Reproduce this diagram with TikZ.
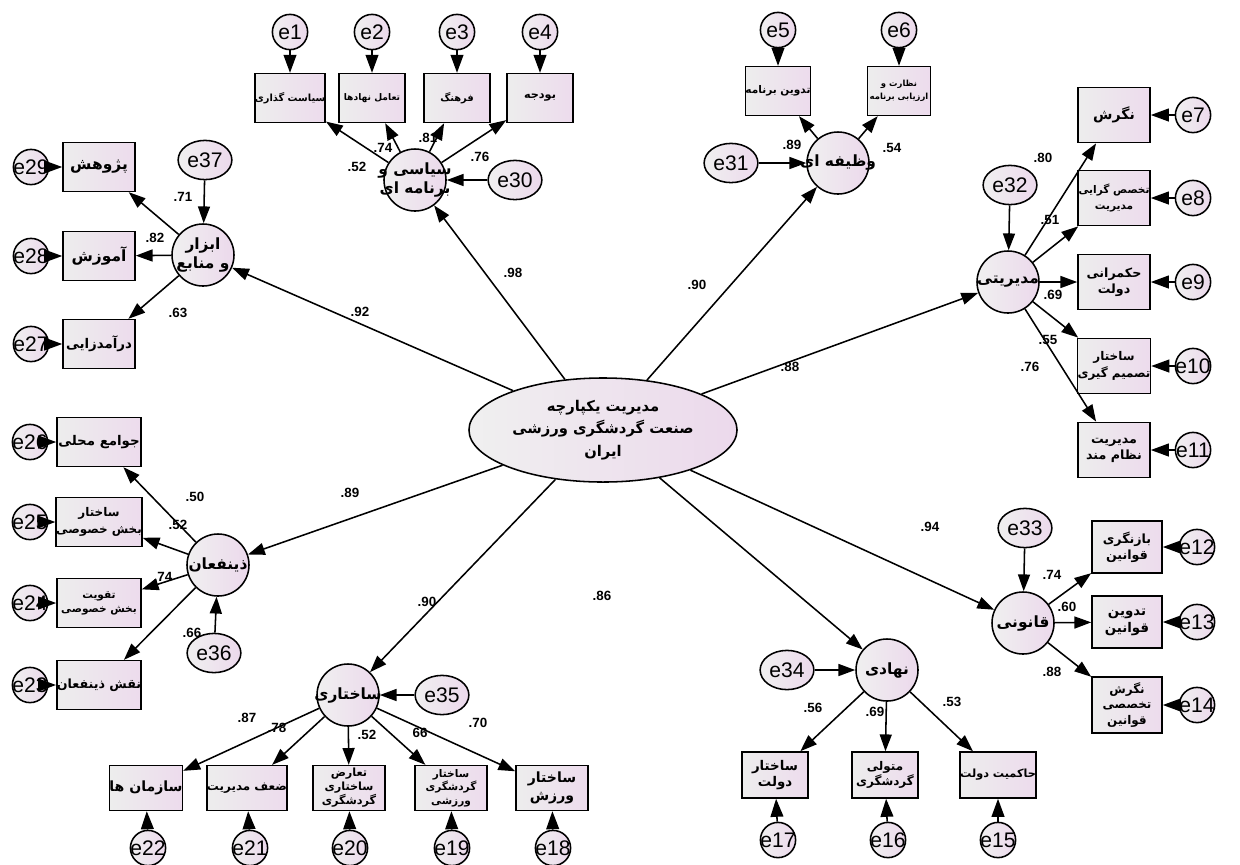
\documentclass[tikz,border=0pt]{standalone}
\usepackage{fontspec}
\setmainfont{Liberation Sans}
\newfontfamily\arabicfont[Script=Arabic]{DejaVu Sans}
\TeXXeTstate=1
\usetikzlibrary{positioning,arrows.meta,shapes.geometric}
\newcommand{\fa}[1]{{\arabicfont\bfseries\beginR #1\endR}}

\tikzset{
  latent/.style={circle,draw,line width=1.1pt,left color=gray!12,right color=violet!15,
    minimum size=1.55cm,inner sep=0pt,label={[lattxt]center:{#1}}},
  lattxt/.style={font=\fontsize{11}{13}\selectfont,align=center},
  obs/.style={rectangle,draw,line width=1.1pt,left color=gray!14,right color=violet!14,
    minimum width=1.65cm,minimum height=1.22cm,inner sep=0pt,align=center,
    font=\fontsize{9}{11.5}\selectfont},
  fs/.style 2 args={font=\fontsize{#1}{#2}\selectfont},
  errl/.style={ellipse,draw,line width=1.1pt,left color=gray!12,right color=violet!15,
    minimum width=1.22cm,minimum height=0.98cm,inner sep=1pt,font=\fontsize{15}{16}\selectfont},
  erri/.style={circle,draw,line width=1.1pt,left color=gray!12,right color=violet!15,
    minimum size=0.88cm,inner sep=0pt,label={[font=\fontsize{15}{16}\selectfont]center:#1}},
  ld/.style={font=\bfseries\fontsize{9.5}{10}\selectfont,inner sep=1pt},
  arr/.style={line width=1.1pt,-{Triangle[length=0.42cm,width=0.3cm]}},
  earr/.style={line width=1.1pt,-{Triangle[length=0.45cm,width=0.32cm]}}
}

\begin{document}
\begin{tikzpicture}[x=0.025cm,y=-0.025cm]
    \useasboundingbox (0,0) rectangle (1240,864);

    % Variable centrale
    \node[ellipse,draw,line width=1.1pt,left color=gray!12,right color=violet!15,
      minimum width=6.7cm,minimum height=2.6cm,align=center,inner sep=1pt,
      font=\fontsize{10.5}{16}\selectfont] (c) at (603,430)
      {\fa{مدیریت یکپارچه}\\\fa{صنعت گردشگری ورزشی}\\\fa{ایران}};

    % Variables latentes
    \node[latent={\fa{سیاسی و}\\\fa{برنامه ای}}] (pol) at (415,180) {};
    \node[latent={\fa{وظیفه ای}}] (func) at (838,163) {};
    \node[latent={\fa{مدیریتی}}] (mgmt) at (1008,282) {};
    \node[latent={\fa{قانونی}}] (law) at (1023,623) {};
    \node[latent={\fa{نهادی}}] (inst) at (887,670) {};
    \node[latent={\fa{ساختاری}}] (str) at (348,695) {};
    \node[latent={\fa{ذینفعان}}] (stake) at (218,565) {};
    \node[latent={\fa{ابزار}\\\fa{و منابع}}] (tools) at (203,255) {};

    % Erreurs des latentes
    \node[errl] (e30) at (515,180) {e30};
    \node[errl] (e31) at (731,163) {e31};
    \node[errl] (e32) at (1010,185) {e32};
    \node[errl] (e33) at (1025,528) {e33};
    \node[errl] (e34) at (787,670) {e34};
    \node[errl] (e35) at (442,695) {e35};
    \node[errl] (e36) at (214,653) {e36};
    \node[errl] (e37) at (205,160) {e37};

    \draw[arr] (e30) -- (pol);
    \draw[arr] (e31) -- (func);
    \draw[arr] (e32) -- (mgmt);
    \draw[arr] (e33) -- (law);
    \draw[arr] (e34) -- (inst);
    \draw[arr] (e35) -- (str);
    \draw[arr] (e36) -- (stake);
    \draw[arr] (e37) -- (tools);

    % Chemins structurels
    \draw[arr] (c) -- (pol);
    \draw[arr] (c) -- (func);
    \draw[arr] (c) -- (mgmt);
    \draw[arr] (c) -- (law);
    \draw[arr] (c) -- (inst);
    \draw[arr] (c) -- (str);
    \draw[arr] (c) -- (stake);
    \draw[arr] (c) -- (tools);
    \node[ld] (s1) at (360,312) {.92};
    \node[ld] (s2) at (513,273) {.98};
    \node[ld] (s3) at (697,285) {.90};
    \node[ld] (s4) at (790,367) {.88};
    \node[ld] (s5) at (930,527) {.94};
    \node[ld] (s6) at (602,596) {.86};
    \node[ld] (s7) at (427,602) {.90};
    \node[ld] (s8) at (350,493) {.89};

    % Bloc politique
    \node[obs,fs={7}{9}] (b1) at (290,98) {\fa{سیاست گذاری}};
    \node[obs,fs={6.5}{8}] (b2) at (372,98) {\fa{تعامل نهادها}};
    \node[obs,fs={7}{9}] (b3) at (457,98) {\fa{فرهنگ}};
    \node[obs,fs={8}{9}] (b4) at (540,98) {\fa{بودجه}};
    \node[erri=e1] (e1) at (290,32) {};
    \node[erri=e2] (e2) at (372,32) {};
    \node[erri=e3] (e3) at (457,32) {};
    \node[erri=e4] (e4) at (540,32) {};
    \foreach \i in {1,...,4} \draw[earr] (e\i) -- (b\i);
    \foreach \i in {1,...,4} \draw[arr] (pol) -- (b\i);
    \node[ld] (p1) at (357,167) {.52};
    \node[ld] (p2) at (383,148) {.74};
    \node[ld] (p3) at (428,138) {.81};
    \node[ld] (p4) at (480,157) {.76};

    % Bloc fonctionnel
    \node[obs,minimum width=1.58cm,fs={7.5}{9}] (b5) at (778,91) {\fa{تدوین برنامه}};
    \node[obs,minimum width=1.58cm,fs={6}{9}] (b6) at (899,91) {\fa{نظارت و}\\\fa{ارزیابی برنامه}};
    \node[erri=e5] (e5) at (778,30) {};
    \node[erri=e6] (e6) at (899,30) {};
    \draw[earr] (e5) -- (b5);
    \draw[earr] (e6) -- (b6);
    \draw[arr] (func) -- (b5);
    \draw[arr] (func) -- (b6);
    \node[ld] (f1) at (792,145) {.89};
    \node[ld] (f2) at (892,148) {.54};

    % Bloc managérial
    \node[obs,minimum width=1.8cm,minimum height=1.38cm,fs={10}{12}] (b7) at (1114,115) {\fa{نگرش}};
    \node[obs,minimum width=1.8cm,minimum height=1.38cm,fs={7.5}{11}] (b8) at (1114,198) {\fa{تخصص گرایی}\\\fa{مدیریت}};
    \node[obs,minimum width=1.8cm,minimum height=1.38cm] (b9) at (1114,282) {\fa{حکمرانی}\\\fa{دولت}};
    \node[obs,minimum width=1.8cm,minimum height=1.38cm,fs={8.5}{12}] (b10) at (1114,366) {\fa{ساختار}\\\fa{تصمیم گیری}};
    \node[obs,minimum width=1.8cm,minimum height=1.38cm] (b11) at (1114,450) {\fa{مدیریت}\\\fa{نظام مند}};
    \node[erri=e7] (e7) at (1193,115) {};
    \node[erri=e8] (e8) at (1193,198) {};
    \node[erri=e9] (e9) at (1193,282) {};
    \node[erri=e10] (e10) at (1193,366) {};
    \node[erri=e11] (e11) at (1193,450) {};
    \foreach \i in {7,...,11} \draw[earr] (e\i) -- (b\i);
    \foreach \i in {7,...,11} \draw[arr] (mgmt) -- (b\i);
    \node[ld] (m1) at (1043,158) {.80};
    \node[ld] (m2) at (1050,220) {.51};
    \node[ld] (m3) at (1053,295) {.69};
    \node[ld] (m4) at (1048,340) {.55};
    \node[ld] (m5) at (1030,367) {.76};

    % Bloc juridique
    \node[obs,minimum width=1.75cm,minimum height=1.3cm] (b12) at (1127,547) {\fa{بازنگری}\\\fa{قوانین}};
    \node[obs,minimum width=1.75cm,minimum height=1.3cm,fs={9.5}{12}] (b13) at (1127,622) {\fa{تدوین}\\\fa{قوانین}};
    \node[obs,minimum width=1.75cm,minimum height=1.4cm,fs={8.5}{11}] (b14) at (1127,705) {\fa{نگرش}\\\fa{تخصصی}\\\fa{قوانین}};
    \node[erri=e12] (e12) at (1197,547) {};
    \node[erri=e13] (e13) at (1197,622) {};
    \node[erri=e14] (e14) at (1197,705) {};
    \foreach \i in {12,13,14} \draw[earr] (e\i) -- (b\i);
    \foreach \i in {12,13,14} \draw[arr] (law) -- (b\i);
    \node[ld] (j1) at (1052,575) {.74};
    \node[ld] (j2) at (1067,607) {.60};
    \node[ld] (j3) at (1052,672) {.88};

    % Bloc institutionnel
    \node[obs,minimum height=1.15cm,fs={9.5}{12}] (b17) at (775,775) {\fa{ساختار}\\\fa{دولت}};
    \node[obs,minimum height=1.15cm,fs={8.5}{11}] (b16) at (885,775) {\fa{متولی}\\\fa{گردشگری}};
    \node[obs,minimum width=1.82cm,minimum height=1.15cm,fs={8}{10}] (b15) at (998,775) {\fa{حاکمیت دولت}};
    \node[erri=e17] (e17) at (778,840) {};
    \node[erri=e16] (e16) at (888,840) {};
    \node[erri=e15] (e15) at (998,840) {};
    \foreach \i in {15,16,17} \draw[earr] (e\i) -- (b\i);
    \foreach \i in {15,16,17} \draw[arr] (inst) -- (b\i);
    \node[ld] (n1) at (813,708) {.56};
    \node[ld] (n2) at (875,712) {.69};
    \node[ld] (n3) at (952,702) {.53};

    % Bloc structurel
    \node[obs,minimum width=1.8cm,minimum height=1.12cm,fs={10}{12}] (b22) at (146,788) {\fa{سازمان ها}};
    \node[obs,minimum width=1.8cm,minimum height=1.12cm,fs={8.5}{10}] (b21) at (247,788) {\fa{ضعف مدیریت}};
    \node[obs,minimum width=1.8cm,minimum height=1.12cm,fs={8}{10}] (b20) at (349,788) {\fa{تعارض}\\\fa{ساختاری}\\\fa{گردشگری}};
    \node[obs,minimum width=1.8cm,minimum height=1.12cm,fs={7.5}{9.5}] (b19) at (451,788) {\fa{ساختار}\\\fa{گردشگری}\\\fa{ورزشی}};
    \node[obs,minimum width=1.8cm,minimum height=1.12cm,fs={10}{13}] (b18) at (552,788) {\fa{ساختار}\\\fa{ورزش}};
    \node[erri=e22] (e22) at (148,848) {};
    \node[erri=e21] (e21) at (250,848) {};
    \node[erri=e20] (e20) at (350,848) {};
    \node[erri=e19] (e19) at (452,848) {};
    \node[erri=e18] (e18) at (553,848) {};
    \foreach \i in {18,...,22} \draw[earr] (e\i) -- (b\i);
    \foreach \i in {18,...,22} \draw[arr] (str) -- (b\i);
    \node[ld] (t1) at (247,718) {.87};
    \node[ld] (t2) at (277,728) {.78};
    \node[ld] (t3) at (367,735) {.52};
    \node[ld] (t4) at (420,733) {66};
    \node[ld] (t5) at (478,723) {.70};

    % Bloc parties prenantes
    \node[obs,minimum width=2.1cm,fs={9.5}{12}] (b26) at (99,442) {\fa{جوامع محلی}};
    \node[obs,minimum width=2.1cm,fs={8.5}{12}] (b25) at (99,522) {\fa{ساختار}\\\fa{بخش خصوصی}};
    \node[obs,minimum width=2.1cm,fs={7.5}{10}] (b24) at (99,603) {\fa{تقویت}\\\fa{بخش خصوصی}};
    \node[obs,minimum width=2.1cm,fs={9}{12}] (b23) at (99,685) {\fa{نقش ذینفعان}};
    \node[erri=e26] (e26) at (30,442) {};
    \node[erri=e25] (e25) at (30,522) {};
    \node[erri=e24] (e24) at (30,603) {};
    \node[erri=e23] (e23) at (30,685) {};
    \foreach \i in {23,...,26} \draw[earr] (e\i) -- (b\i);
    \foreach \i in {23,...,26} \draw[arr] (stake) -- (b\i);
    \node[ld] (k1) at (195,497) {.50};
    \node[ld] (k2) at (178,525) {.52};
    \node[ld] (k3) at (163,577) {.74};
    \node[ld] (k4) at (192,633) {.66};

    % Bloc outils et ressources
    \node[obs,minimum width=1.8cm,fs={11}{12}] (b29) at (99,167) {\fa{پژوهش}};
    \node[obs,minimum width=1.8cm,fs={11}{12}] (b28) at (99,256) {\fa{آموزش}};
    \node[obs,minimum width=1.8cm,fs={9.5}{11}] (b27) at (99,344) {\fa{درآمدزایی}};
    \node[erri=e29] (e29) at (31,167) {};
    \node[erri=e28] (e28) at (31,256) {};
    \node[erri=e27] (e27) at (31,344) {};
    \foreach \i in {27,28,29} \draw[earr] (e\i) -- (b\i);
    \foreach \i in {27,28,29} \draw[arr] (tools) -- (b\i);
    \node[ld] (o1) at (183,197) {.71};
    \node[ld] (o2) at (155,238) {.82};
    \node[ld] (o3) at (178,313) {.63};
\end{tikzpicture}
\end{document}
